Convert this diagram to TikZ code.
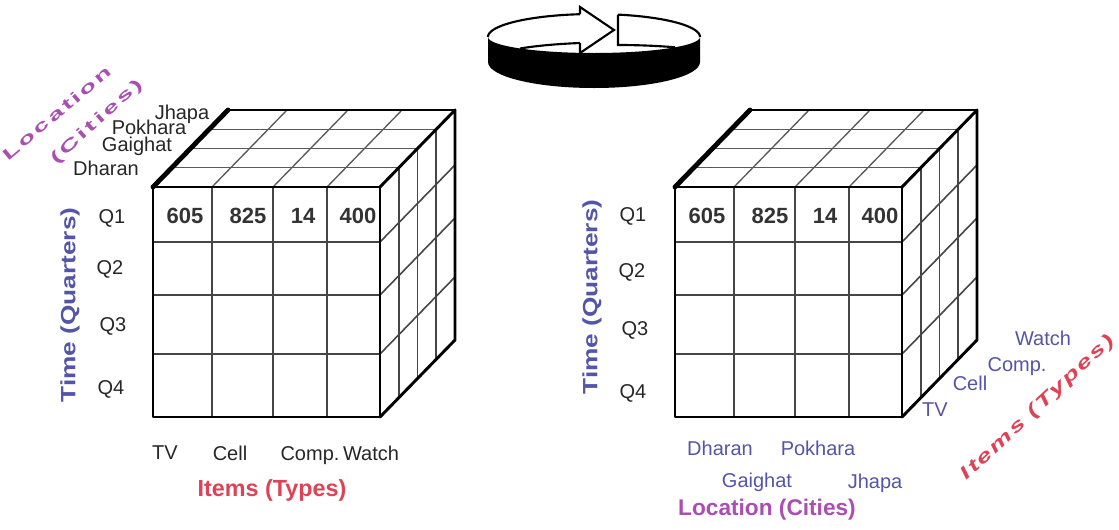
\documentclass[tikz,border=0pt]{standalone}
\usepackage{fontspec}
\setmainfont{Liberation Sans}
\usepackage{graphicx}
\definecolor{qblue}{RGB}{84,84,168}
\definecolor{itemred}{RGB}{222,66,86}
\definecolor{locpurple}{RGB}{170,78,178}
\definecolor{gridgray}{RGB}{70,70,70}

\begin{document}
\begin{tikzpicture}[x=0.75pt,y=-0.75pt,
  edge/.style={line width=2.2pt,line join=round,line cap=round},
  leadedge/.style={line width=3.6pt,line cap=round},
  gridline/.style={line width=1.2pt,draw=gridgray},
  topline/.style={line width=1pt,draw=gridgray!90},
  ringline/.style={line width=1.6pt,line join=miter},
  lab/.style={font=\fontsize{15}{15}\selectfont,text=black!85,inner sep=0pt,anchor=base},
  bluelab/.style={lab,text=qblue},
  num/.style={font=\bfseries\fontsize{16.5}{18}\selectfont,text=black!80,inner sep=0pt,anchor=base},
  axislab/.style={font=\bfseries\fontsize{15.5}{17}\selectfont,inner sep=0pt},
]
\path[use as bounding box] (0,0) rectangle (1119,529);

% ---------- rotation sign ----------
\fill[black] (488,37) .. controls (488,45.8) and (535.5,53) .. (594,53)
  .. controls (652.5,53) and (700,45.8) .. (700,37) -- (700,62)
  .. controls (700,76.4) and (652.5,88) .. (594,88)
  .. controls (535.5,88) and (488,76.4) .. (488,62) -- cycle;
\draw[ringline] plot[domain=180:97.6,samples=40] ({594+106*cos(\x)},{37-23*sin(\x)});
\draw[ringline] (580,43) .. controls (555,44) and (535,46) .. (520,48.5);
\draw[ringline] (580,14.2) -- (580,7) -- (614,30) -- (580,53) -- (580,43);
\draw[ringline] plot[domain=76.9:0,samples=40] ({594+106*cos(\x)},{37-23*sin(\x)});
\draw[ringline] (618,14.6) -- (618,45) .. controls (640,45) and (660,46) .. (675,47.3);

% ---------- the two cubes ----------
\foreach \sx in {0,522}{
\begin{scope}[shift={(\sx,0)}]
  % front face grid
  \foreach \c in {212,273,327} \draw[gridline] (\c,187) -- (\c,417);
  \foreach \r in {242,295,354} \draw[gridline] (153,\r) -- (380,\r);
  % top face grid
  \foreach \t in {0.25,0.5,0.75}
    \draw[topline] ({153+75*\t},{187-77*\t}) -- ({380+75*\t},{187-77*\t});
  \foreach \c in {212,273,327} \draw[topline] (\c,187) -- (\c+75,110);
  % side face grid
  \foreach \t in {0.25,0.5,0.75}
    \draw[gridline] ({380+75*\t},{187-77*\t}) -- ({380+75*\t},{417-77*\t});
  \foreach \r in {242,295,354} \draw[gridline] (380,\r) -- (455,\r-77);
  % outer edges
  \draw[edge] (153,187) rectangle (380,417);
  \draw[edge] (380,187) -- (455,110) -- (455,340) -- (380,417);
  \draw[edge] (455,110) -- (228,110);
  \draw[leadedge] (153,187) -- (228,110);
\end{scope}
}

% ---------- cell values ----------
\node[num] (la) at (185,223) {605};
\node[num] (lb) at (248,223) {825};
\node[num] (lc) at (303,223) {14};
\node[num] (ld) at (358,223) {400};
\node[num] (ra) at (707,223) {605};
\node[num] (rb) at (770,223) {825};
\node[num] (rc) at (825,223) {14};
\node[num] (rd) at (880,223) {400};

% ---------- left cube labels ----------
\node[lab] (lq1) at (112,223) {Q1};
\node[lab] (lq2) at (110,274) {Q2};
\node[lab] (lq3) at (113,331) {Q3};
\node[lab] (lq4) at (111,394) {Q4};
\node[axislab,text=qblue,rotate=90] (ltime) at (70,305) {\scalebox{1.27}[1]{Time (Quarters)}};

\node[lab] (ljha) at (182,119) {Jhapa};
\node[lab] (lpok) at (149,134) {Pokhara};
\node[lab] (lgai) at (137,151) {Gaighat};
\node[lab] (ldha) at (106,175) {Dharan};
\node[axislab,text=locpurple,rotate=40,font=\bfseries\fontsize{12}{13}\selectfont] (lloc) at (57,113) {\addfontfeatures{LetterSpace=10}\scalebox{1.75}[1]{Location}};
\node[axislab,text=locpurple,rotate=42,font=\bfseries\fontsize{12}{13}\selectfont] (lcit) at (97,122) {\addfontfeatures{LetterSpace=10}\scalebox{1.8}[1]{(Cities)}};

\node[lab] (ltv) at (165,459) {TV};
\node[lab] (lcell) at (230,460) {Cell};
\node[lab] (lcomp) at (310,460) {Comp.};
\node[lab] (lwat) at (371,460) {Watch};
\node[axislab,text=itemred,font=\bfseries\fontsize{17.5}{19}\selectfont] (litems) at (272,490) {Items (Types)};

% ---------- right cube labels ----------
\node[lab] (rq1) at (633,221) {Q1};
\node[lab] (rq2) at (632,277) {Q2};
\node[lab] (rq3) at (635,335) {Q3};
\node[lab] (rq4) at (633,398) {Q4};
\node[axislab,text=qblue,rotate=90] (rtime) at (592,297) {\scalebox{1.27}[1]{Time (Quarters)}};

\node[bluelab] (rdha) at (720,455) {Dharan};
\node[bluelab] (rpok) at (818,455) {Pokhara};
\node[bluelab] (rgai) at (757,487) {Gaighat};
\node[bluelab] (rjha) at (875,488) {Jhapa};
\node[axislab,text=locpurple,font=\bfseries\fontsize{17}{19}\selectfont] (rloc) at (767,510) {Location (Cities)};

\node[bluelab] (rtv) at (935,416) {TV};
\node[bluelab] (rcell) at (970,390) {Cell};
\node[bluelab] (rcomp) at (1017,371) {Comp.};
\node[bluelab] (rwat) at (1043,345) {Watch};
\node[axislab,text=itemred,rotate=43,font=\bfseries\itshape\fontsize{13.5}{15}\selectfont] (ritems) at (1038,408) {\addfontfeatures{LetterSpace=8}\scalebox{1.55}[1]{Items (Types)}};
\end{tikzpicture}
\end{document}
